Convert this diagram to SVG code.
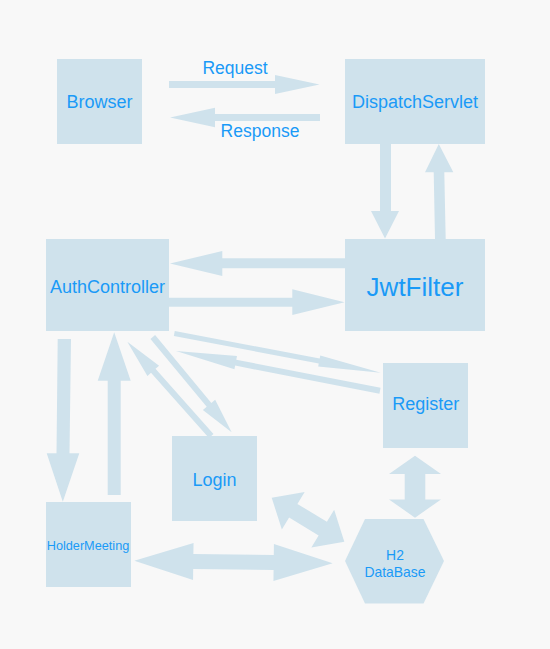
<svg xmlns="http://www.w3.org/2000/svg" width="550" height="649" viewBox="0 0 550 649">
<style>
.node{fill:#cfe2ec}
.arr{fill:#cfe2ec}
.t{font-family:"Liberation Sans",Arial,sans-serif;fill:#1a9af7;text-anchor:middle;font-size:18px}
.lbl{font-size:17.5px}
</style>
<rect x="0" y="0" width="550" height="649" fill="#f8f8f8"/>
<g id="connectors">
  <polygon class="arr" points="169,81 275,81 275,75 319.5,84.5 275,94 275,88 169,88"/>
  <polygon class="arr" points="320,114 215,114 215,107.7 170,117.5 215,127.3 215,121 320,121"/>
  <polygon class="arr" points="380,144 391,144 391,211 399,211 385,238.5 371,211 380,211"/>
  <polygon class="arr" points="435,239 445.7,239 444.3,172.3 453.3,172.3 438.8,144 425,172.3 433.7,172.3"/>
  <polygon class="arr" points="345,258.3 222.3,258.3 222.3,251 170,263.5 222.3,276 222.3,268.3 345,268.3"/>
  <polygon class="arr" points="169,297.7 292.3,297.7 292.3,289.3 344.5,302.3 292.3,315 292.3,306.7 169,306.7"/>
  <polygon class="arr" points="57.7,339 71,339 69.5,453.3 79.3,453.3 62.8,501.7 46.7,453.3 56.5,453.3"/>
  <polygon class="arr" points="107.7,495 120.7,495 120.7,380.7 130.7,380.7 114.2,332.3 97.7,380.7 107.7,380.7"/>
  <!-- Login -> AuthController -->
  <polygon class="arr" transform="translate(211.2,436) rotate(-131.65)" points="0,-3 87.2,-3 87.2,-7.8 126.2,0 87.2,7.8 87.2,3 0,3"/>
  <!-- AuthController -> Login -->
  <polygon class="arr" transform="translate(152.8,337) rotate(50.4)" points="0,-3 88.2,-3 88.2,-8 123.7,0 88.2,8 88.2,3 0,3"/>
  <!-- AuthController -> Register -->
  <polygon class="arr" transform="translate(174.3,333.5) rotate(10.75)" points="0,-2.5 147.5,-2.5 147.5,-5.6 210.1,0 147.5,5.6 147.5,2.5 0,2.5"/>
  <!-- Register -> AuthController -->
  <polygon class="arr" transform="translate(380,390.8) rotate(191.04)" points="0,-3 147,-3 147,-6.7 207.8,0 147,6.7 147,3 0,3"/>
  <!-- Login <-> H2 -->
  <polygon class="arr" transform="translate(271.7,497.7) rotate(31.2)" points="0,0 25.2,-22 25.2,-8 59.7,-8 59.7,-22 84.9,0 59.7,22 59.7,8 25.2,8 25.2,22"/>
  <!-- HolderMeeting <-> H2 -->
  <polygon class="arr" transform="translate(134.3,560.7) rotate(0.75)" points="0,0 59,-18.5 59,-7.5 139.4,-7.5 139.4,-18.5 198.4,0 139.4,18.5 139.4,7.5 59,7.5 59,18.5"/>
  <!-- Register <-> H2 -->
  <polygon class="arr" transform="translate(415,455.7) rotate(90)" points="0,0 18.3,-26 18.3,-10.3 43.7,-10.3 43.7,-26 62,0 43.7,26 43.7,10.3 18.3,10.3 18.3,26"/>
</g>
<text class="t lbl" x="235" y="74.3">Request</text>
<text class="t lbl" x="260" y="136.7">Response</text>
<g id="browser">
  <rect class="node" x="57" y="59" width="85" height="85"/>
  <text class="t" x="99.5" y="107.7">Browser</text>
</g>
<g id="dispatchservlet">
  <rect class="node" x="345" y="59" width="140" height="85"/>
  <text class="t" x="415" y="107.7">DispatchServlet</text>
</g>
<g id="authcontroller">
  <rect class="node" x="46" y="239" width="123" height="92"/>
  <text class="t" x="107.5" y="292.7">AuthController</text>
</g>
<g id="jwtfilter">
  <rect class="node" x="345" y="239" width="140" height="92"/>
  <text class="t" x="415" y="295.7" style="font-size:26px">JwtFilter</text>
</g>
<g id="register">
  <rect class="node" x="383" y="363" width="85" height="85"/>
  <text class="t" x="425.8" y="410">Register</text>
</g>
<g id="login">
  <rect class="node" x="172" y="436" width="85" height="85"/>
  <text class="t" x="214.5" y="485.7">Login</text>
</g>
<g id="holdermeeting">
  <rect class="node" x="46" y="502" width="85" height="85"/>
  <text class="t" x="88" y="550" style="font-size:12.7px">HolderMeeting</text>
</g>
<g id="h2database">
  <polygon class="node" points="345,561 365,519 423.5,519 444,561 423.5,603.5 365,603.5"/>
  <text class="t" x="395" y="560" style="font-size:13.9px">H2</text>
  <text class="t" x="395" y="576.7" style="font-size:13.9px">DataBase</text>
</g>
</svg>
